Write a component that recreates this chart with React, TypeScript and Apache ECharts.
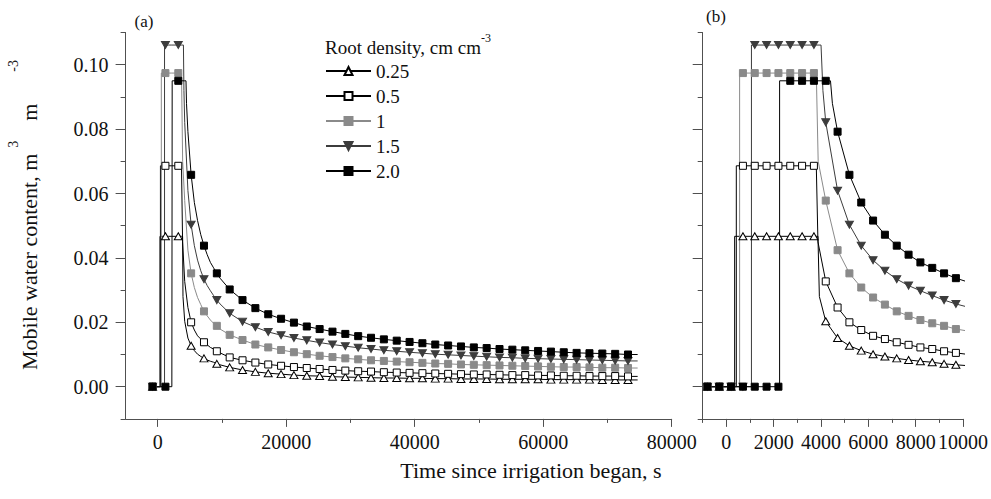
import React, { useEffect, useRef } from "react";
import * as echarts from "echarts";

// ---------- data ----------
const densityNames = ["0.25", "0.5", "1", "1.5", "2.0"];

// times (s) at which markers sit before the jump (value 0)
const zeroTimes = [-800, -300, 200, 700, 1200, 1700, 2200];
// marker times on the plateau
const plateauMarkTimes = [700, 1200, 1700, 2200, 2700, 3200, 3700, 4200];
// marker times of the early decay (fine grid, panel b)
const decayTimesB = [4200, 4700, 5200, 5700, 6200, 6700, 7200, 7700, 8200, 8700, 9200, 9700];
// marker times of the late decay (coarse grid, panel a)
const decayTimesA = [
  11200, 13200, 15200, 17200, 19200, 21200, 23200, 25200, 27200, 29200, 31200,
  33200, 35200, 37200, 39200, 41200, 43200, 45200, 47200, 49200, 51200, 53200,
  55200, 57200, 59200, 61200, 63200, 65200, 67200, 69200, 71200, 73200,
];
const endTimeA = 74700;

const jumpTimes = [350, 420, 560, 1060, 2250];
const plateauValues = [0.0467, 0.0686, 0.0974, 0.1061, 0.095];
const plateauEndTimes = [3870, 3800, 3800, 4000, 4400];
const dropTimes = [3930, 3870, 3880, 4080, 4480];
const dropValues = [0.028, 0.045, 0.07, 0.092, 0.088];

const decayB025 = [0.0203, 0.0151, 0.0127, 0.0112, 0.0101, 0.0094, 0.0088, 0.0083, 0.0079, 0.0076, 0.0071, 0.0068];
const decayB05 = [0.0327, 0.0246, 0.02, 0.0176, 0.0158, 0.0148, 0.0138, 0.013, 0.0122, 0.0117, 0.011, 0.0105];
const decayB1 = [0.0578, 0.0424, 0.0352, 0.0308, 0.0277, 0.0255, 0.0234, 0.022, 0.0207, 0.0197, 0.0189, 0.0179];
const decayB15 = [0.0821, 0.0609, 0.0503, 0.0438, 0.0393, 0.036, 0.0334, 0.0314, 0.0298, 0.0283, 0.0269, 0.0257];
const decayB20 = [null, 0.0792, 0.0658, 0.0572, 0.0516, 0.0472, 0.0438, 0.041, 0.0386, 0.0369, 0.0352, 0.0337];

const decayA025 = [0.006, 0.0052, 0.0046, 0.0042, 0.0039, 0.0036, 0.0034, 0.0033, 0.0031, 0.003, 0.0029, 0.0028, 0.0027, 0.0027, 0.0026, 0.0026, 0.0025, 0.0025, 0.0024, 0.0024, 0.0024, 0.0023, 0.0023, 0.0023, 0.0023, 0.0022, 0.0022, 0.0022, 0.0022, 0.0021, 0.0021, 0.0021];
const decayA05 = [0.0091, 0.0082, 0.0075, 0.0069, 0.0065, 0.0061, 0.0058, 0.0055, 0.0052, 0.005, 0.0048, 0.0047, 0.0045, 0.0044, 0.0043, 0.0042, 0.0041, 0.004, 0.0039, 0.0038, 0.0038, 0.0037, 0.0036, 0.0036, 0.0035, 0.0035, 0.0034, 0.0034, 0.0033, 0.0033, 0.0033, 0.0032];
const decayA1 = [0.0161, 0.0145, 0.0131, 0.0122, 0.0114, 0.0107, 0.0101, 0.0096, 0.0092, 0.0088, 0.0085, 0.0082, 0.008, 0.0078, 0.0076, 0.0074, 0.0072, 0.0071, 0.0069, 0.0068, 0.0067, 0.0066, 0.0065, 0.0064, 0.0063, 0.0062, 0.0061, 0.0061, 0.006, 0.0059, 0.0059, 0.0058];
const decayA15 = [0.0228, 0.0202, 0.0185, 0.017, 0.016, 0.0151, 0.0144, 0.0137, 0.0131, 0.0126, 0.0121, 0.0117, 0.0113, 0.011, 0.0107, 0.0104, 0.0101, 0.0099, 0.0097, 0.0095, 0.0093, 0.0091, 0.009, 0.0088, 0.0087, 0.0086, 0.0085, 0.0084, 0.0083, 0.0082, 0.0081, 0.008];
const decayA20 = [0.0302, 0.0269, 0.0244, 0.0225, 0.0211, 0.0199, 0.0187, 0.0179, 0.0171, 0.0164, 0.0157, 0.0152, 0.0147, 0.0143, 0.0139, 0.0135, 0.0131, 0.0128, 0.0125, 0.0122, 0.012, 0.0117, 0.0115, 0.0113, 0.0111, 0.0109, 0.0107, 0.0105, 0.0104, 0.0103, 0.0102, 0.01];

const decayB = [decayB025, decayB05, decayB1, decayB15, decayB20];
const decayA = [decayA025, decayA05, decayA1, decayA15, decayA20];

// axis ticks
const xMajorA = [0, 20000, 40000, 60000, 80000];
const xMinorA = [10000, 30000, 50000, 70000];
const xMajorB = [0, 2000, 4000, 6000, 8000, 10000];
const xMinorB = [-1000, 1000, 3000, 5000, 7000, 9000];
const yMajor = [0, 0.02, 0.04, 0.06, 0.08, 0.1];
const yMinor = [-0.01, 0.01, 0.03, 0.05, 0.07, 0.09, 0.11];

// ---------- styles ----------
const FONT = "Liberation Serif";
const AXIS_COLOR = "#505050";
const lineColors = ["#000", "#000", "#8a8a8a", "#3c3c3c", "#000"];
const fillColors = ["#fff", "#fff", "#8a8a8a", "#3c3c3c", "#000"];
const borderColors = ["#000", "#000", "#8a8a8a", "#3c3c3c", "#000"];
const symbols = ["triangle", "rect", "rect", "path://M0,0L10,0L5,9Z", "rect"];
const symbolSizes: any[] = [[8, 7], 7, 7, [8, 7], 7];

type Pt = { t: number; v: number; mark: boolean };

function buildPoints(i: number): Pt[] {
  const pts: Pt[] = [];
  zeroTimes.forEach((t) => {
    if (t < jumpTimes[i]) pts.push({ t, v: 0, mark: true });
  });
  pts.push({ t: jumpTimes[i], v: 0, mark: false });
  pts.push({ t: jumpTimes[i], v: plateauValues[i], mark: false });
  plateauMarkTimes.forEach((t) => {
    if (t > jumpTimes[i] && t < plateauEndTimes[i]) pts.push({ t, v: plateauValues[i], mark: true });
  });
  pts.push({ t: plateauEndTimes[i], v: plateauValues[i], mark: false });
  pts.push({ t: dropTimes[i], v: dropValues[i], mark: false });
  decayTimesB.forEach((t, k) => {
    const v = decayB[i][k];
    if (v !== null && t > plateauEndTimes[i]) pts.push({ t, v: v as number, mark: true });
  });
  decayTimesA.forEach((t, k) => pts.push({ t, v: decayA[i][k], mark: true }));
  pts.push({ t: endTimeA, v: decayA[i][decayA[i].length - 1], mark: false });
  return pts;
}

function toData(pts: Pt[], showMark: (t: number) => boolean) {
  return pts.map((p) => {
    const item: any = { value: [p.t, p.v] };
    if (!(p.mark && showMark(p.t))) item.symbol = "none";
    return item;
  });
}

const labelStyle = { fontFamily: FONT, fontSize: 20, color: "#111" };
const axisLineStyle = { color: AXIS_COLOR, width: 1 };

function xAxes(grid: number, min: number, max: number, major: number[], minor: number[]) {
  return [
    {
      gridIndex: grid, type: "value", min, max, position: "bottom",
      axisLine: { show: true, onZero: false, lineStyle: axisLineStyle },
      axisTick: { show: true, inside: false, length: 8, customValues: major, lineStyle: axisLineStyle },
      axisLabel: { show: true, customValues: major, margin: 13, ...labelStyle, formatter: (v: number) => String(v) },
      splitLine: { show: false },
    },
    {
      gridIndex: grid, type: "value", min, max, position: "bottom",
      axisLine: { show: false, onZero: false },
      axisTick: { show: true, inside: false, length: 4, customValues: minor, lineStyle: axisLineStyle },
      axisLabel: { show: false },
      splitLine: { show: false },
    },
  ];
}

function yAxes(grid: number, showLabels: boolean) {
  return [
    {
      gridIndex: grid, type: "value", min: -0.01, max: 0.11, position: "left",
      axisLine: { show: true, onZero: false, lineStyle: axisLineStyle },
      axisTick: { show: true, inside: false, length: 10, customValues: yMajor, lineStyle: axisLineStyle },
      axisLabel: { show: showLabels, customValues: yMajor, margin: 17, ...labelStyle, formatter: (v: number) => v.toFixed(2) },
      splitLine: { show: false },
    },
    {
      gridIndex: grid, type: "value", min: -0.01, max: 0.11, position: "left",
      axisLine: { show: false, onZero: false },
      axisTick: { show: true, inside: false, length: 5, customValues: yMinor, lineStyle: axisLineStyle },
      axisLabel: { show: false },
      splitLine: { show: false },
    },
  ];
}

export default function App() {
  const ref = useRef<HTMLDivElement>(null);

  useEffect(() => {
    if (!ref.current) return;
    const chart = echarts.init(ref.current, null, { renderer: "svg" });

    const series: any[] = [];
    densityNames.forEach((name, i) => {
      const pts = buildPoints(i);
      const common = {
        type: "line",
        name,
        symbol: symbols[i],
        symbolSize: symbolSizes[i],
        showAllSymbol: true,
        smooth: false,
        clip: true,
        silent: true,
        lineStyle: { color: lineColors[i], width: 1 },
        itemStyle: { color: fillColors[i], borderColor: borderColors[i], borderWidth: 1 },
        emphasis: { disabled: true },
      };
      series.push({
        ...common,
        xAxisIndex: 0,
        yAxisIndex: 0,
        data: toData(pts, (t) => (t + 800) % 2000 === 0),
      });
      series.push({
        ...common,
        xAxisIndex: 2,
        yAxisIndex: 2,
        data: toData(
          pts.filter((p) => p.t <= 11200),
          (t) => (t + 800) % 500 === 0 && t <= 10000
        ),
      });
    });

    const option: any = {
      animation: false,
      backgroundColor: "#fff",
      grid: [
        { left: 125.6, top: 32.5, width: 546.1, height: 386.4, containLabel: false },
        { left: 702.7, top: 32.5, width: 260.6, height: 386.4, containLabel: false },
      ],
      xAxis: [
        ...xAxes(0, -5000, 80000, xMajorA, xMinorA),
        ...xAxes(1, -1000, 10000, xMajorB, xMinorB),
      ],
      yAxis: [...yAxes(0, true), ...yAxes(1, false)],
      legend: {
        data: densityNames,
        orient: "vertical",
        left: 325,
        top: 61,
        padding: 0,
        itemWidth: 45,
        itemHeight: 10,
        itemGap: 5,
        selectedMode: false,
        textStyle: { fontFamily: FONT, fontSize: 19, color: "#111", lineHeight: 20 },
      },
      graphic: [
        {
          type: "text", x: 144, y: 21,
          style: { text: "(a)", fontFamily: FONT, fontSize: 17, fill: "#111", align: "center", verticalAlign: "middle" },
        },
        {
          type: "text", x: 716, y: 16,
          style: { text: "(b)", fontFamily: FONT, fontSize: 17, fill: "#111", align: "center", verticalAlign: "middle" },
        },
        {
          type: "text", x: 325, y: 47,
          style: {
            text: "{n|Root density, cm cm}{s|-3}",
            align: "left", verticalAlign: "middle",
            rich: {
              n: { fontFamily: FONT, fontSize: 19, fill: "#111", lineHeight: 30, verticalAlign: "middle" },
              s: { fontFamily: FONT, fontSize: 12, fill: "#111", lineHeight: 12, verticalAlign: "top" },
            },
          },
        },
        {
          type: "text", x: 29, y: 215, rotation: Math.PI / 2,
          style: {
            text: "{n|Mobile water content, m}{s1|3}{n2|m}{s2|-3}",
            align: "center", verticalAlign: "middle",
            rich: {
              n: { fontFamily: FONT, fontSize: 22, fill: "#111", lineHeight: 46, verticalAlign: "middle" },
              n2: { fontFamily: FONT, fontSize: 22, fill: "#111", lineHeight: 46, verticalAlign: "middle", padding: [0, 0, 0, 20] },
              s1: { fontFamily: FONT, fontSize: 14, fill: "#111", lineHeight: 14, verticalAlign: "top", padding: [0, 0, 0, 6] },
              s2: { fontFamily: FONT, fontSize: 14, fill: "#111", lineHeight: 14, verticalAlign: "top", padding: [0, 0, 0, 32] },
            },
          },
        },
        {
          type: "text", x: 531, y: 470,
          style: {
            text: "Time since irrigation began, s",
            fontFamily: FONT, fontSize: 22, fill: "#111", align: "center", verticalAlign: "middle",
          },
        },
      ],
      series,
    };

    chart.setOption(option);
    return () => chart.dispose();
  }, []);

  return (
    <div
      ref={ref}
      style={{ position: "absolute", left: 0, top: 0, width: 991, height: 499 }}
    />
  );
}
